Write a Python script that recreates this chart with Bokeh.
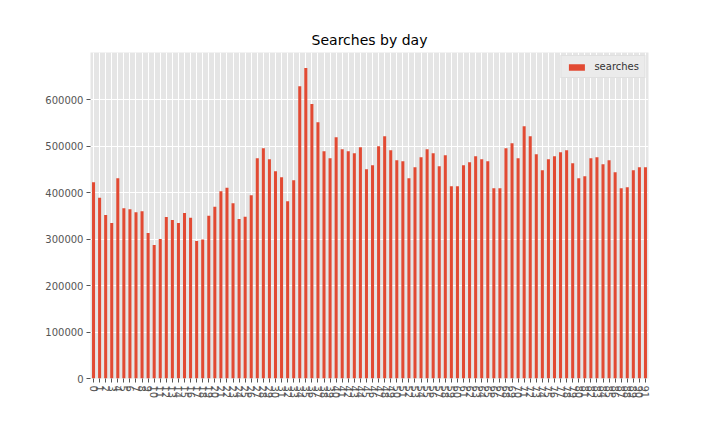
from bokeh.plotting import figure
from bokeh.models import Range1d, FixedTicker, NumeralTickFormatter, Legend, LegendItem, ColumnDataSource
from bokeh.embed import file_html
from bokeh.resources import INLINE

days = list(range(92))
searches = [
    422300, 388700, 351500, 334300, 430900, 366500, 364300, 357900, 360000, 312800,
    287000, 299900, 347200, 340700, 334300, 355800, 345700, 295600, 299200, 350000,
    369400, 403000, 410200, 377200, 342900, 347900, 394400, 473900, 495300, 471700,
    446000, 433100, 381500, 426600, 628500, 667900, 590600, 551200, 488900, 473900,
    519000, 493200, 488900, 484600, 497500, 450300, 458800, 499600, 521100, 491100,
    469600, 467400, 430900, 454500, 476000, 493200, 484600, 456700, 480300, 413700,
    413700, 458800, 465300, 478200, 471700, 467400, 409400, 409400, 495300, 506100,
    473900, 542600, 521100, 482500, 448100, 471700, 478200, 486800, 491100, 463100,
    430900, 435200, 473900, 476000, 461000, 469600, 443800, 409400, 411600, 448100,
    454500, 454500,
]
y_ticks = [0, 100000, 200000, 300000, 400000, 500000, 600000]
title_text = "Searches by day"
series_name = "searches"

src = ColumnDataSource(dict(x=days, top=searches))

p = figure(width=704, height=416, output_backend="svg", toolbar_location=None,
           x_range=Range1d(-0.5, len(days) - 0.5),
           y_range=Range1d(0, max(searches) * 1.05),
           min_border_left=90, min_border_right=56, min_border_top=52, min_border_bottom=38)

p.background_fill_color = "#E5E5E5"
p.border_fill_color = "white"
p.outline_line_color = None

p.title.text = title_text
p.title.align = "center"
p.title.text_font = "DejaVu Sans"
p.title.text_font_size = "14px"
p.title.text_font_style = "normal"
p.title.text_color = "black"
p.title.offset = 0

r = p.vbar(x="x", top="top", bottom=0, width=0.5, source=src,
           fill_color="#E24A33", line_color=None)

for ax in (p.xaxis[0], p.yaxis[0]):
    ax.axis_line_color = None
    ax.major_tick_line_color = "#555555"
    ax.major_tick_out = 4
    ax.major_tick_in = 0
    ax.minor_tick_line_color = None
    ax.major_label_text_color = "#555555"
    ax.major_label_text_font = "DejaVu Sans"
    ax.major_label_text_font_size = "10px"
    ax.major_label_standoff = 3

p.xaxis[0].ticker = FixedTicker(ticks=days)
p.xaxis[0].major_label_orientation = "vertical"
p.yaxis[0].ticker = FixedTicker(ticks=y_ticks)
p.yaxis[0].formatter = NumeralTickFormatter(format="0")

p.xgrid.grid_line_color = "white"
p.ygrid.grid_line_color = "white"
p.xgrid.grid_line_width = 1
p.ygrid.grid_line_width = 1

legend = Legend(items=[LegendItem(label=series_name, renderers=[r])], location="top_right")
legend.background_fill_color = "#EBEBEB"
legend.background_fill_alpha = 1.0
legend.border_line_color = "#D5D5D5"
legend.label_text_font = "DejaVu Sans"
legend.label_text_font_size = "10px"
legend.label_text_color = "#333333"
legend.glyph_width = 20
legend.glyph_height = 8
legend.padding = 5
legend.margin = 3
legend.label_standoff = 8
legend.spacing = 0
p.add_layout(legend)

open("out.html", "w").write(file_html(p, INLINE))
